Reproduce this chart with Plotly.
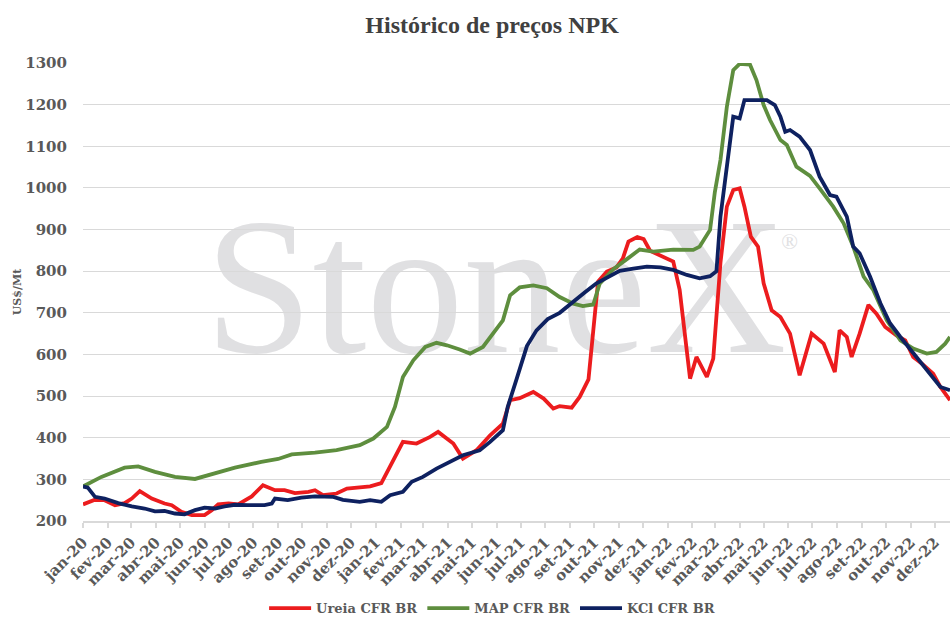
import pandas as pd
import plotly.graph_objects as go

# rótulos do eixo x (um por mês)
month_labels = [
    "jan-20", "fev-20", "mar-20", "abr-20", "mai-20", "jun-20",
    "jul-20", "ago-20", "set-20", "out-20", "nov-20", "dez-20",
    "jan-21", "fev-21", "mar-21", "abr-21", "mai-21", "jun-21",
    "jul-21", "ago-21", "set-21", "out-21", "nov-21", "dez-21",
    "jan-22", "fev-22", "mar-22", "abr-22", "mai-22", "jun-22",
    "jul-22", "ago-22", "set-22", "out-22", "nov-22", "dez-22",
]

ureia_dates = [
    "2020-01-01", "2020-01-16", "2020-01-28", "2020-02-10", "2020-02-22", "2020-03-02",
    "2020-03-12", "2020-03-27", "2020-04-12", "2020-04-21", "2020-05-03", "2020-05-16",
    "2020-06-01", "2020-06-10", "2020-06-18", "2020-07-01", "2020-07-13", "2020-07-30",
    "2020-08-13", "2020-08-28", "2020-09-09", "2020-09-22", "2020-10-09", "2020-10-17",
    "2020-10-27", "2020-11-13", "2020-11-26", "2020-12-12", "2020-12-25", "2021-01-08",
    "2021-01-23", "2021-02-04", "2021-02-21", "2021-03-10", "2021-03-20", "2021-04-08",
    "2021-04-20", "2021-05-07", "2021-05-24", "2021-06-09", "2021-06-18", "2021-06-30",
    "2021-07-17", "2021-07-30", "2021-08-11", "2021-08-19", "2021-09-03", "2021-09-13",
    "2021-09-24", "2021-09-30", "2021-10-06", "2021-10-17", "2021-10-29", "2021-11-06",
    "2021-11-13", "2021-11-24", "2021-12-02", "2021-12-10", "2021-12-26", "2022-01-08",
    "2022-01-16", "2022-01-23", "2022-01-29", "2022-02-06", "2022-02-19", "2022-02-27",
    "2022-03-08", "2022-03-16", "2022-03-24", "2022-04-01", "2022-04-07", "2022-04-15",
    "2022-04-24", "2022-05-01", "2022-05-11", "2022-05-22", "2022-06-03", "2022-06-15",
    "2022-06-30", "2022-07-15", "2022-07-29", "2022-08-04", "2022-08-13", "2022-08-19",
    "2022-08-29", "2022-09-09", "2022-09-19", "2022-09-30", "2022-10-14", "2022-10-25",
    "2022-11-04", "2022-11-15", "2022-11-29", "2022-12-08", "2022-12-20",
]
ureia_usd = [
    240, 251, 250, 238, 243, 254,
    272, 254, 242, 238, 222, 214,
    214, 226, 240, 242, 240, 259,
    286, 274, 274, 267, 270, 274,
    262, 266, 278, 280, 283, 291,
    346, 390, 386, 402, 414, 386,
    350, 370, 406, 434, 490, 495,
    510, 494, 470, 476, 472, 498,
    540, 662, 775, 799, 809, 831,
    871, 882, 877, 849, 835, 823,
    755, 642, 542, 594, 546, 590,
    820, 955, 995, 999, 955, 883,
    859, 771, 706, 690, 650, 550,
    650, 626, 558, 658, 642, 594,
    650, 719, 698, 666, 646, 634,
    594, 578, 554, 522, 490,
]

map_dates = [
    "2020-01-01", "2020-01-24", "2020-02-22", "2020-03-10", "2020-03-31", "2020-04-25",
    "2020-05-20", "2020-06-14", "2020-07-09", "2020-08-11", "2020-09-01", "2020-09-18",
    "2020-10-17", "2020-11-13", "2020-12-12", "2020-12-29", "2021-01-15", "2021-01-25",
    "2021-02-04", "2021-02-17", "2021-03-04", "2021-03-18", "2021-03-31", "2021-04-16",
    "2021-04-29", "2021-05-15", "2021-06-01", "2021-06-09", "2021-06-18", "2021-06-30",
    "2021-07-17", "2021-08-03", "2021-08-19", "2021-09-05", "2021-09-17", "2021-09-30",
    "2021-10-08", "2021-10-25", "2021-11-11", "2021-11-27", "2021-12-14", "2022-01-08",
    "2022-02-02", "2022-02-10", "2022-02-23", "2022-03-01", "2022-03-08", "2022-03-16",
    "2022-03-24", "2022-04-01", "2022-04-14", "2022-04-22", "2022-05-01", "2022-05-09",
    "2022-05-22", "2022-05-30", "2022-06-11", "2022-06-28", "2022-07-10", "2022-07-27",
    "2022-08-09", "2022-08-21", "2022-09-03", "2022-09-15", "2022-10-02", "2022-10-19",
    "2022-11-04", "2022-11-21", "2022-12-03", "2022-12-14", "2022-12-20",
]
map_usd = [
    283, 306, 328, 331, 318, 306,
    301, 314, 328, 342, 349, 360,
    364, 370, 382, 398, 426, 474,
    546, 586, 618, 628, 622, 612,
    602, 618, 660, 682, 742, 761,
    766, 759, 738, 722, 716, 720,
    770, 805, 829, 852, 847, 852,
    851, 859, 899, 990, 1067, 1195,
    1283, 1298, 1296, 1259, 1199, 1163,
    1115, 1103, 1051, 1029, 999, 955,
    915, 859, 787, 755, 682, 634,
    614, 602, 606, 626, 642,
]

kcl_dates = [
    "2020-01-01", "2020-01-07", "2020-01-16", "2020-01-28", "2020-02-14", "2020-03-02",
    "2020-03-18", "2020-03-31", "2020-04-12", "2020-04-25", "2020-05-07", "2020-05-20",
    "2020-06-01", "2020-06-14", "2020-06-26", "2020-07-09", "2020-07-25", "2020-08-15",
    "2020-08-24", "2020-08-28", "2020-09-13", "2020-09-30", "2020-10-17", "2020-11-09",
    "2020-11-21", "2020-12-12", "2020-12-25", "2021-01-08", "2021-01-19", "2021-02-04",
    "2021-02-15", "2021-03-01", "2021-03-18", "2021-04-04", "2021-04-20", "2021-05-11",
    "2021-05-24", "2021-06-09", "2021-06-15", "2021-06-26", "2021-07-09", "2021-07-21",
    "2021-08-04", "2021-08-19", "2021-09-05", "2021-09-20", "2021-10-04", "2021-10-21",
    "2021-11-02", "2021-11-19", "2021-12-06", "2021-12-23", "2022-01-08", "2022-01-25",
    "2022-02-10", "2022-02-23", "2022-03-03", "2022-03-08", "2022-03-16", "2022-03-24",
    "2022-04-01", "2022-04-07", "2022-05-05", "2022-05-15", "2022-05-22", "2022-05-28",
    "2022-06-03", "2022-06-15", "2022-06-28", "2022-07-10", "2022-07-23", "2022-07-31",
    "2022-08-13", "2022-08-21", "2022-08-29", "2022-09-11", "2022-09-24", "2022-10-06",
    "2022-10-19", "2022-11-08", "2022-11-25", "2022-12-08", "2022-12-20",
]
kcl_usd = [
    283, 280, 258, 254, 243, 235,
    230, 223, 224, 218, 216, 226,
    232, 230, 235, 239, 238, 238,
    242, 254, 250, 256, 259, 258,
    251, 246, 250, 246, 262, 270,
    294, 306, 326, 342, 358, 370,
    390, 418, 474, 540, 620, 658,
    685, 700, 728, 750, 771, 790,
    801, 806, 811, 809, 803, 791,
    783, 788, 800, 931, 1051, 1171,
    1167, 1211, 1211, 1199, 1171, 1135,
    1139, 1123, 1091, 1027, 983, 979,
    931, 859, 843, 787, 723, 675,
    642, 594, 554, 522, 514,
]

month_ticks = pd.date_range("2020-01-01", periods=len(month_labels), freq="MS")

label_font = dict(family="DejaVu Serif", size=15, color="#595959", weight="bold")

fig = go.Figure()

# marca d'água por baixo das linhas de grade
fig.add_shape(
    type="rect", xref="x domain", yref="y domain",
    x0=0.076, x1=0.876, y0=0.358, y1=0.758,
    line_width=0, fillcolor="rgba(0,0,0,0)", layer="below",
    label=dict(
        text="StoneX", textposition="middle center",
        font=dict(family="Liberation Serif", size=194, color="#e0e0e2"),
    ),
)
fig.add_shape(
    type="rect", xref="x domain", yref="y domain",
    x0=0.80, x1=0.83, y0=0.589, y1=0.639,
    line_width=0, fillcolor="rgba(0,0,0,0)", layer="below",
    label=dict(
        text="®", textposition="middle center",
        font=dict(family="Liberation Serif", size=22, color="#e0e0e2"),
    ),
)

series = [
    ("Ureia CFR BR", ureia_dates, ureia_usd, "#EC1C1E"),
    ("MAP CFR BR", map_dates, map_usd, "#5E8E3E"),
    ("KCl CFR BR", kcl_dates, kcl_usd, "#0E2160"),
]
for name, dates, vals, color in series:
    fig.add_trace(
        go.Scatter(
            x=pd.to_datetime(dates), y=vals, mode="lines", name=name,
            line=dict(color=color, width=3.8),
        )
    )

fig.update_layout(
    width=950,
    height=618,
    margin=dict(l=83, r=0, t=63, b=97, autoexpand=False),
    plot_bgcolor="white",
    paper_bgcolor="white",
    title=dict(
        text="Histórico de preços NPK",
        xref="container", x=0.518, xanchor="center",
        yref="container", y=0.96, yanchor="middle",
        font=dict(family="Liberation Serif", size=24, color="#404040", weight="bold"),
    ),
    xaxis=dict(
        type="date",
        range=["2020-01-01", "2022-12-20"],
        tickvals=month_ticks,
        ticktext=month_labels,
        tickangle=-45,
        tickfont=label_font,
        ticks="outside", ticklen=5, tickcolor="#d9d9d9", tickwidth=1.5,
        showline=True, linecolor="#d9d9d9", linewidth=1.5,
        showgrid=False, zeroline=False,
    ),
    yaxis=dict(
        range=[200, 1300],
        dtick=100,
        tickfont=label_font,
        ticklabelstandoff=15,
        gridcolor="#d9d9d9", gridwidth=1.3,
        showline=False, zeroline=False,
        title=dict(
            text="US$/Mt", standoff=1,
            font=dict(family="DejaVu Serif", size=11, color="#595959", weight="bold"),
        ),
    ),
    legend=dict(
        orientation="h",
        xref="container", x=0.518, xanchor="center",
        yref="container", y=0.016, yanchor="middle",
        itemwidth=42,
        font=dict(family="DejaVu Serif", size=13, color="#595959", weight="bold"),
    ),
)

# a página padrão tem margem de 8px no body; zera para o gráfico ocupar a janela
fig.write_html(
    "out.html",
    config={"displayModeBar": False},
    post_script="document.body.style.margin='0';",
)
